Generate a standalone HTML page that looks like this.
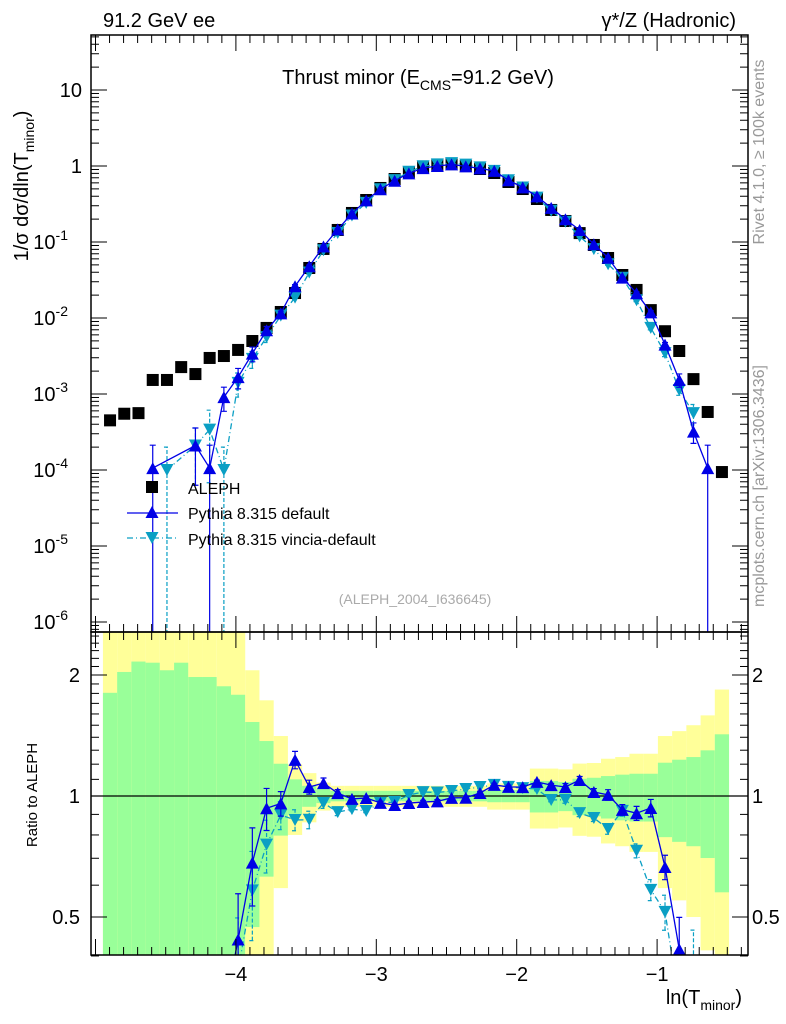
<!DOCTYPE html>
<html><head><meta charset="utf-8"><style>
html,body{margin:0;padding:0;background:#fff;width:786px;height:1024px;overflow:hidden;}
svg{display:block;font-family:"Liberation Sans",Arial,sans-serif;}
</style></head><body>
<svg id="c" width="786" height="1024" viewBox="0 0 786 1024" xmlns="http://www.w3.org/2000/svg">
<defs>
<clipPath id="cm"><rect x="91" y="35" width="657" height="597"/></clipPath>
<clipPath id="cr"><rect x="91" y="632" width="657" height="323"/></clipPath>
</defs>
<g id="bands" clip-path="url(#cr)"></g>
<g id="mainMarks" clip-path="url(#cm)"></g>
<g id="ratioMarks" clip-path="url(#cr)"></g>
<g id="axes"></g>
<text x="103" y="27" font-size="20">91.2 GeV ee</text>
<text x="736" y="27" font-size="20" text-anchor="end">γ*/Z (Hadronic)</text>
<text x="418" y="84" font-size="20" text-anchor="middle">Thrust minor (E<tspan font-size="14" dy="6">CMS</tspan><tspan dy="-6">=91.2 GeV)</tspan></text>
<text transform="translate(28,186) rotate(-90)" font-size="20" text-anchor="middle">1/σ  dσ/dln(T<tspan font-size="14" dy="6">minor</tspan><tspan dy="-6">)</tspan></text>
<text transform="translate(764,152) rotate(-90)" font-size="16" fill="#999" text-anchor="middle">Rivet 4.1.0, ≥ 100k events</text>
<text transform="translate(764,486) rotate(-90)" font-size="16" fill="#999" text-anchor="middle">mcplots.cern.ch [arXiv:1306.3436]</text>
<text x="415" y="604" font-size="14" fill="#aaa" text-anchor="middle">(ALEPH_2004_I636645)</text>
<text transform="translate(37,795) rotate(-90)" font-size="15" text-anchor="middle">Ratio to ALEPH</text>
<text x="742" y="1004" font-size="20" text-anchor="end">ln(T<tspan font-size="14" dy="6">minor</tspan><tspan dy="-6">)</tspan></text>
<g>
<rect x="146" y="481" width="12" height="12" fill="#000"/>
<text x="188" y="494" font-size="16">ALEPH</text>
<line x1="127" y1="513" x2="178" y2="513" stroke="#0000e6" stroke-width="1.3"/>
<path d="M152,506 L158.5,518 L145.5,518 Z" fill="#0000e6"/>
<text x="188" y="519" font-size="16">Pythia 8.315 default</text>
<line x1="127" y1="538" x2="178" y2="538" stroke="#0a9fc4" stroke-width="1.3" stroke-dasharray="6,3,1,3"/>
<path d="M145.5,532 L158.5,532 L152,544 Z" fill="#0a9fc4"/>
<text x="188" y="545" font-size="16">Pythia 8.315 vincia-default</text>
</g>
</svg>
<script>
const xCenters=[-4.85,-4.75,-4.65,-4.55,-4.45,-4.35,-4.25,-4.15,-4.05,-3.95,-3.85,-3.75,-3.65,-3.55,-3.45,-3.35,-3.25,-3.15,-3.05,-2.95,-2.85,-2.75,-2.65,-2.55,-2.45,-2.35,-2.25,-2.15,-2.05,-1.95,-1.85,-1.75,-1.65,-1.55,-1.45,-1.35,-1.25,-1.15,-1.05,-0.95,-0.85,-0.75,-0.65,-0.55];
const aleph=[4.5e-4,5.5e-4,5.6e-4,1.53e-3,1.53e-3,2.26e-3,1.83e-3,2.98e-3,3.16e-3,3.8e-3,4.98e-3,7.4e-3,0.012,0.0213,0.0455,0.081,0.144,0.241,0.357,0.514,0.674,0.834,0.97,1.03,1.06,1.0,0.913,0.809,0.616,0.498,0.368,0.264,0.189,0.131,0.0914,0.0616,0.0368,0.0234,0.0127,6.7e-3,3.68e-3,1.57e-3,5.8e-4,9.4e-5];
const pyDefault=[null,null,null,1.06e-4,null,null,2.1e-4,1.06e-4,9.1e-4,1.67e-3,3.4e-3,6.9e-3,0.0115,0.0262,0.0479,0.0872,0.1464,0.237,0.353,0.494,0.640,0.801,0.937,0.999,1.049,0.99,0.929,0.862,0.649,0.524,0.399,0.281,0.199,0.1436,0.0935,0.062,0.034,0.0212,0.01186,4.46e-3,1.53e-3,3.2e-4,1.06e-4,null];
const pyVincia=[null,null,null,null,1.0e-4,null,2.1e-4,3.4e-4,1.0e-4,1.4e-3,2.9e-3,5.6e-3,0.01076,0.01857,0.0397,0.0778,0.1313,0.2236,0.3277,0.494,0.651,0.839,0.992,1.051,1.091,1.041,0.961,0.862,0.649,0.521,0.383,0.258,0.185,0.1188,0.0806,0.051,0.0338,0.0171,0.00742,3.45e-3,1.13e-3,5.6e-4,null,null];
const errDefault=[0,0,0,1,0,0,0.7,1,0.35,0.3,0.22,0.12,0.07,0.05,0.04,0.03,0.02,0.01,0.01,0.01,0.01,0.01,0.01,0.01,0.01,0.01,0.01,0.01,0.01,0.01,0.01,0.01,0.02,0.02,0.02,0.03,0.03,0.04,0.05,0.07,0.2,0.3,1,0];
const errVincia=[0,0,0,0,1,0,0.7,0.8,1,0.35,0.25,0.15,0.08,0.06,0.05,0.03,0.02,0.01,0.01,0.01,0.01,0.01,0.01,0.01,0.01,0.01,0.01,0.01,0.01,0.01,0.01,0.01,0.02,0.02,0.02,0.03,0.03,0.04,0.06,0.1,0.15,0.3,0,0];
const bandYellow=[2,2,2,2,2,2,2,2,2,2,1.055,0.73,0.41,0.2,0.14,0.08,0.06,0.06,0.06,0.06,0.06,0.06,0.06,0.06,0.06,0.06,0.06,0.075,0.075,0.075,0.17,0.17,0.165,0.204,0.208,0.238,0.25,0.274,0.274,0.41,0.45,0.5,0.587,0.84];
const bandGreen=[0.806,1.035,1.16,1.146,1.055,1.146,0.977,0.977,0.875,0.786,0.528,0.37,0.203,0.1,0.06,0.04,0.03,0.03,0.03,0.03,0.03,0.03,0.03,0.03,0.03,0.03,0.03,0.035,0.035,0.035,0.09,0.09,0.083,0.104,0.11,0.121,0.13,0.136,0.136,0.21,0.231,0.25,0.299,0.424];
const xTicks=[-4,-3,-2,-1];
const xTickLabels=["−4","−3","−2","−1"];
const binWidth=0.1;

const NS="http://www.w3.org/2000/svg";
const L=91,R=748,MT=35,MB=632,RB=955;
const xPix=v=>373.3+(v+3)*142.3;
const xTickPix=v=>376.3+(v+3)*140.4;
const yMain=v=>166-76*Math.log10(v);
const yRat=r=>796-121*Math.log2(r);
function mk(tag,attrs,parent){const e=document.createElementNS(NS,tag);for(const k in attrs)e.setAttribute(k,attrs[k]);parent.appendChild(e);return e;}
const bands=document.getElementById('bands'),mm=document.getElementById('mainMarks'),rm=document.getElementById('ratioMarks'),ax=document.getElementById('axes');

xCenters.forEach((x,i)=>{
  const x0=xPix(x-binWidth/2),x1=xPix(x+binWidth/2);
  [[bandYellow,'#ffff99','yellow'],[bandGreen,'#99ff99','green']].forEach(([arr,col,nm])=>{
    const d=arr[i];const lo=1-d>0.01?yRat(1-d):RB+5;const hi=yRat(1+d);
    const r=mk('rect',{x:x0,y:hi,width:x1-x0,height:lo-hi,fill:col},bands);
    
    
  });
});
const ref=mk('line',{x1:L,x2:R,y1:yRat(1),y2:yRat(1),stroke:'#000','stroke-width':1.2},rm);



xCenters.forEach((x,i)=>{
  const r=mk('rect',{x:xPix(x)-6,y:yMain(aleph[i])-6,width:12,height:12,fill:'#000'},mm);
  
  
});

function series(vals,errs,col,dash,down,name){
  let pts=[],rpts=[];
  xCenters.forEach((x,i)=>{const v=vals[i];if(v==null)return;pts.push([xPix(x),yMain(v)]);rpts.push([xPix(x),yRat(v/aleph[i])]);});
  [[pts,mm,false],[rpts,rm,true]].forEach(([p,g,isR])=>{
    const pl=mk('polyline',{points:p.map(q=>q.join(',')).join(' '),fill:'none',stroke:col,'stroke-width':1.3},g);
    if(dash)pl.setAttribute('stroke-dasharray','6,3,1,3');
    
    
  });
  xCenters.forEach((x,i)=>{
    const v=vals[i];if(v==null)return;const px=xPix(x),e=errs[i];
    [[mm,v,yMain],[rm,v/aleph[i],yRat]].forEach(([g,val,yf],k)=>{
      const y=yf(val);
      if(e>0){
        const yl=e>=0.99?(k?RB+2:MB+2):yf(val*(1-e)),yh=yf(val*(1+e));
        const el=mk('path',{d:`M${px},${yl}L${px},${yh}M${px-3},${yh}L${px+3},${yh}`+(e<0.99?`M${px-3},${yl}L${px+3},${yl}`:''),stroke:col,'stroke-width':1.2,fill:'none'},g);
        if(dash)el.setAttribute('stroke-dasharray','4,2');
        
        
      }
      const d=down?`M${px-6.5},${y-6}L${px+6.5},${y-6}L${px},${y+6}Z`:`M${px},${y-6}L${px+6.5},${y+6}L${px-6.5},${y+6}Z`;
      const m=mk('path',{d:d,fill:col},g);
      
      
    });
  });
}
series(pyVincia,errVincia,'#0a9fc4',true,true,'vincia');
series(pyDefault,errDefault,'#0000e6',false,false,'default');

[[MT,MB],[MB,RB]].forEach(([t,b],k)=>{
  const f=mk('rect',{x:L,y:t,width:R-L,height:b-t,fill:'none',stroke:'#000','stroke-width':1.5},ax);
  
  
});
function tk(x1,y1,x2,y2){mk('line',{x1,y1,x2,y2,stroke:'#000','stroke-width':1},ax);}
for(let n=-50;n<=-3;n++){
  const v=n/10,px=xTickPix(v),maj=n%10===0,len=maj?16:8;
  if(px<L||px>R)continue;
  [MT,MB].forEach(t=>tk(px,t,px,t+len));
  [MB,RB].forEach(b=>tk(px,b,px,b-len));
}
xTicks.forEach((v,i)=>{
  const t=mk('text',{x:xTickPix(v),y:981,'font-size':20,'text-anchor':'middle'},ax);t.textContent=xTickLabels[i];
  
  
});
const yLab=[[1,"10"],[0,"1"],[-1,"10",-1],[-2,"10",-2],[-3,"10",-3],[-4,"10",-4],[-5,"10",-5],[-6,"10",-6]];
for(let e=-7;e<=1;e++){for(let m=1;m<10;m++){const y=yMain(m*Math.pow(10,e));if(y<MT||y>MB)continue;const len=m==1?16:8;tk(L,y,L+len,y);tk(R,y,R-len,y);}}
yLab.forEach(([e,s,p])=>{
  const y=yMain(Math.pow(10,e));
  const t=mk('text',{x:p!==undefined?68:82,y:y+7,'font-size':20,'text-anchor':'end'},ax);
  t.textContent=s;
  if(p!==undefined){const ts=mk('tspan',{'font-size':14,dy:-9},t);ts.textContent=p;}
  
  
});
[0.4,0.5,0.6,0.7,0.8,0.9,1,2].forEach(r=>{const y=yRat(r);const maj=(r==0.5||r==1||r==2);tk(L,y,L+(maj?16:8),y);tk(R,y,R-(maj?16:8),y);});
for(let n=11;n<=25;n++){const y=yRat(n/10);if(y<MB)continue;tk(L,y,L+8,y);tk(R,y,R-8,y);}
[[2,"2"],[1,"1"],[0.5,"0.5"]].forEach(([r,s])=>{
  [[80,'end'],[752,'start']].forEach(([x,a])=>{
    const t=mk('text',{x:x,y:yRat(r)+7,'font-size':20,'text-anchor':a},ax);t.textContent=s;
    
    
  });
});
</script>
</body></html>
